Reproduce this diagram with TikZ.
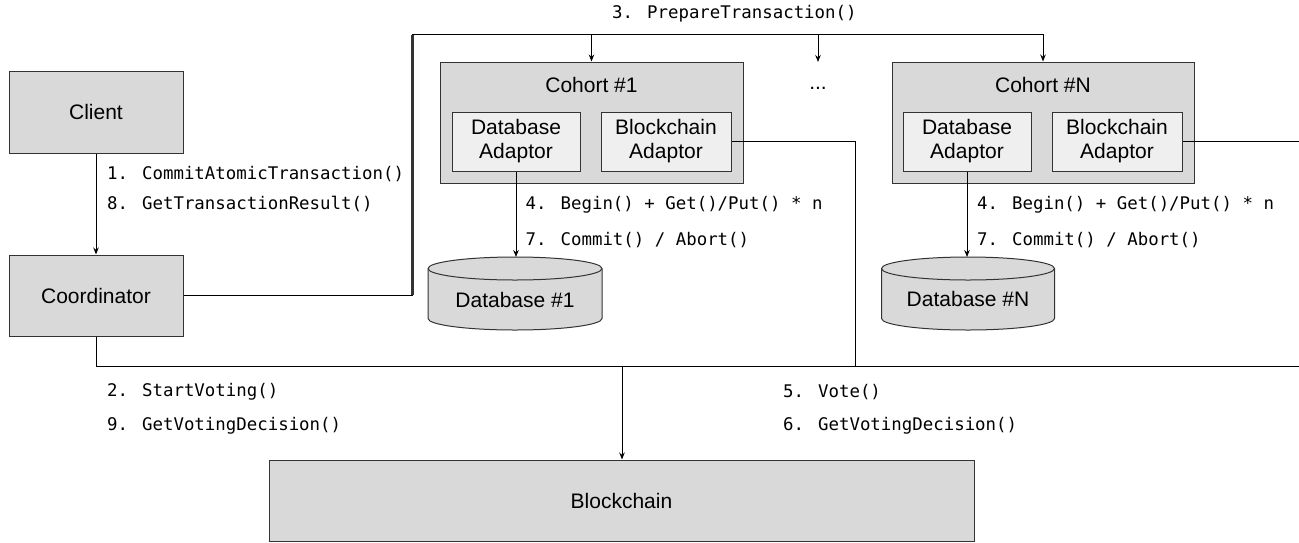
\documentclass[tikz,border=0pt]{standalone}
\usepackage{fontspec}
\setmainfont{Liberation Sans}
\newfontfamily\monof{DejaVu Sans Mono}
\usetikzlibrary{arrows.meta}
\definecolor{boxgray}{HTML}{D9D9D9}
\definecolor{innergray}{HTML}{EFEFEF}
\definecolor{edgegray}{HTML}{333333}
\tikzset{
  x=1pt,y=1pt,
  box/.style={draw=edgegray,fill=boxgray,line width=1pt,inner sep=0pt,rectangle,
    font=\fontsize{21}{24}\selectfont,align=center},
  adaptor/.style={box,fill=innergray},
  lbl/.style={font=\monof\fontsize{17.4}{20}\selectfont,anchor=west,inner sep=0pt},
  conn/.style={line width=1pt,draw=black},
  arr/.style={conn,-{Stealth[length=7pt,width=5.5pt]}},
  dbtext/.style={font=\fontsize{21}{24}\selectfont,inner sep=0pt,minimum width=174pt,minimum height=73pt},
  cyl/.style={draw=edgegray,fill=boxgray,line width=1pt}
}
\begin{document}
\begin{tikzpicture}
\useasboundingbox (0,0) rectangle (1299,-542);
% nodes
\node[box,minimum width=174pt,minimum height=82pt] (client) at (96,-112) {Client};
\node[box,minimum width=174pt,minimum height=81pt] (coord) at (96,-295.5) {Coordinator};
\node[box,minimum width=303pt,minimum height=121pt] (c1) at (591.5,-122.5) {};
\node[font=\fontsize{21}{24}\selectfont,inner sep=0pt] (c1t) at (591.5,-85) {Cohort \#1};
\node[adaptor,minimum width=128pt,minimum height=59pt] (dba1) at (516,-141.5) {Database\\Adaptor};
\node[adaptor,minimum width=130pt,minimum height=59pt] (bca1) at (666,-141.5) {Blockchain\\Adaptor};
\node[box,minimum width=302pt,minimum height=121pt] (cN) at (1043,-122.5) {};
\node[font=\fontsize{21}{24}\selectfont,inner sep=0pt] (cNt) at (1043,-85) {Cohort \#N};
\node[adaptor,minimum width=128pt,minimum height=59pt] (dbaN) at (967,-141.5) {Database\\Adaptor};
\node[adaptor,minimum width=130pt,minimum height=59pt] (bcaN) at (1117,-141.5) {Blockchain\\Adaptor};
\node[font=\fontsize{21}{24}\selectfont,inner sep=0pt] (dots) at (818,-88) {...};
\coordinate (dotstop) at (818,-62);
\node[box,minimum width=705pt,minimum height=81.5pt] (bc) at (621.5,-500.75) {Blockchain};
% cylinders
\draw[cyl] (428,-268.5) -- (428,-318.5) arc[start angle=180,end angle=360,x radius=87,y radius=11.5]
  -- (602,-268.5) arc[start angle=0,end angle=180,x radius=87,y radius=11.5] -- cycle;
\draw[cyl,fill=none] (602,-268.5) arc[start angle=0,end angle=-180,x radius=87,y radius=11.5];
\node[dbtext] (db1) at (515,-293.5) {};
\node[font=\fontsize{21}{24}\selectfont,inner sep=0pt] (db1t) at (515,-300) {Database \#1};
\coordinate (db1top) at (516,-257);
\draw[cyl] (881.5,-268.5) -- (881.5,-318.5) arc[start angle=180,end angle=360,x radius=86.5,y radius=11.5]
  -- (1054.5,-268.5) arc[start angle=0,end angle=180,x radius=86.5,y radius=11.5] -- cycle;
\draw[cyl,fill=none] (1054.5,-268.5) arc[start angle=0,end angle=-180,x radius=86.5,y radius=11.5];
\node[dbtext] (dbN) at (968,-293.5) {};
\node[font=\fontsize{21}{24}\selectfont,inner sep=0pt] (dbNt) at (968,-299) {Database \#N};
\coordinate (dbNtop) at (967,-257);
% labels
\node[lbl] (l1) at (107,-174) {1. CommitAtomicTransaction()};
\node[lbl] (l8) at (107,-204) {8. GetTransactionResult()};
\node[lbl] (l3) at (612,-14) {3. PrepareTransaction()};
\node[lbl] (l4a) at (525.5,-205) {4. Begin() + Get()/Put() * n};
\node[lbl] (l7a) at (525.5,-240) {7. Commit() / Abort()};
\node[lbl] (l4b) at (977,-205) {4. Begin() + Get()/Put() * n};
\node[lbl] (l7b) at (977,-240) {7. Commit() / Abort()};
\node[lbl] (l2) at (107,-392) {2. StartVoting()};
\node[lbl] (l9) at (107,-426) {9. GetVotingDecision()};
\node[lbl] (l5) at (783,-392) {5. Vote()};
\node[lbl] (l6) at (783,-426) {6. GetVotingDecision()};
% connectors
\coordinate (busL) at (412.5,-34);
\coordinate (voteL) at (622,-366);
\coordinate (rightEnd) at (1310,-366);
\draw[arr] (client.south) -- (coord.north);
\draw[conn] (coord.east) -- (coord.east -| busL) -- (busL);
\draw[line width=2.6pt,draw=edgegray] (coord.east -| busL) ++(0,0.5) -- ([yshift=-0.5pt]busL);
\draw[arr] (busL) -| (cN.north);
\draw[arr] (busL -| c1.north) -- (c1.north);
\draw[arr] (busL -| dotstop) -- (dotstop);
\draw[arr] (dba1.south) -- (db1top);
\draw[arr] (dbaN.south) -- (dbNtop);
\draw[conn] (coord.south) |- (rightEnd) |- (bcaN.east);
\draw[conn] (bca1.east) -| (855,-366) -- (voteL);
\draw[arr] (voteL) -- (bc.north -| voteL);
\end{tikzpicture}
\end{document}
